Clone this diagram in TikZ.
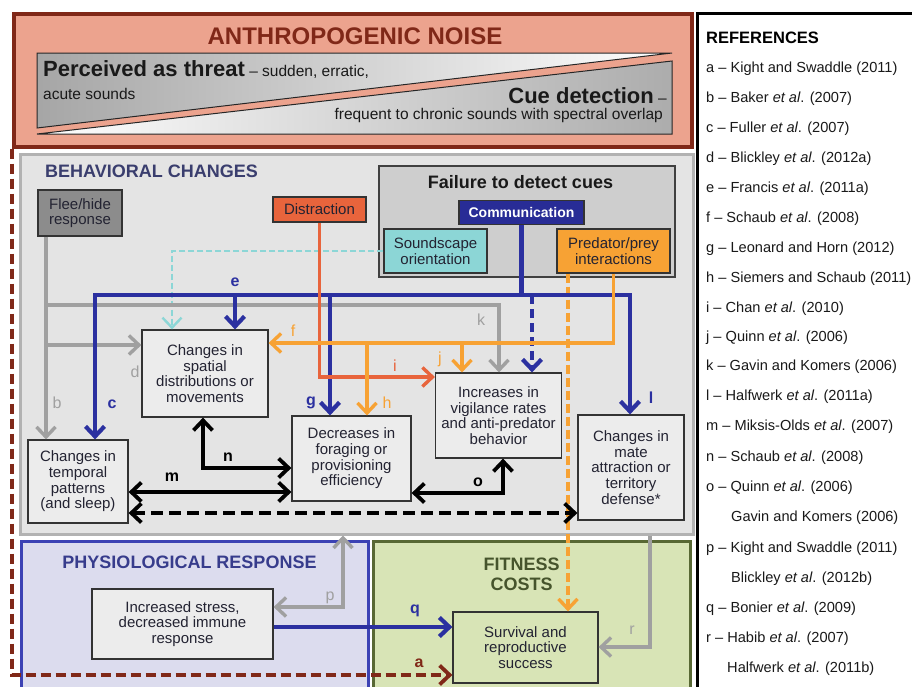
\documentclass[tikz,border=0pt]{standalone}
\usepackage{fontspec}
\setmainfont{Liberation Sans}
\usetikzlibrary{arrows.meta}
\newcommand{\fs}[2]{\fontsize{#1}{#2}\selectfont}
\definecolor{salmon}{RGB}{236,163,142}
\definecolor{dred}{RGB}{128,40,24}
\definecolor{bgray}{RGB}{228,228,228}
\definecolor{nblue}{RGB}{43,48,160}
\definecolor{norange}{RGB}{247,162,52}
\definecolor{nred}{RGB}{232,100,60}
\definecolor{ncyan}{RGB}{140,214,214}
\definecolor{lgray}{RGB}{160,160,160}
\definecolor{physfill}{RGB}{220,220,238}
\definecolor{physline}{RGB}{60,66,180}
\definecolor{phystext}{RGB}{55,60,140}
\definecolor{fitfill}{RGB}{216,228,182}
\definecolor{fitline}{RGB}{88,104,52}
\definecolor{fittext}{RGB}{70,84,44}
\definecolor{behtext}{RGB}{58,62,110}
\definecolor{boxfill}{RGB}{236,236,236}
\definecolor{fleefill}{RGB}{140,140,140}
\definecolor{failfill}{RGB}{206,206,206}
\definecolor{commfill}{RGB}{40,44,150}
\definecolor{boxtext}{RGB}{35,35,50}
\tikzset{
  box/.style={draw=black!80, line width=1.2pt, fill=boxfill, align=center, inner sep=0pt, text=boxtext, font=\fs{15}{15.7}},
  panel/.style={anchor=north west, inner sep=0pt},
  reftext/.style={anchor=base west, inner sep=0pt, font=\fs{14.6}{16}, text=black!90},
  lbl/.style={inner sep=0pt, font=\fs{16}{16}},
  blbl/.style={inner sep=0pt, font=\fs{16}{16}\bfseries},
  arrowend/.style={-{Straight Barb[length=10pt,width=19pt]}},
  arrowboth/.style={{Straight Barb[length=10pt,width=19pt]}-{Straight Barb[length=10pt,width=19pt]}},
  blu/.style={draw=nblue, line width=4.2pt},
  org/.style={draw=norange, line width=3.4pt},
  rdl/.style={draw=nred, line width=3.4pt},
  gry/.style={draw=lgray, line width=3.4pt},
  blk/.style={draw=black, line width=3.8pt},
  cyl/.style={draw=ncyan, line width=2.4pt, dash pattern=on 6pt off 3pt},
  drl/.style={draw=dred, line width=3.8pt, dash pattern=on 10pt off 5pt},
}
\begin{document}
\begin{tikzpicture}[x=1pt,y=-1pt]
\useasboundingbox (0,0) rectangle (912,686);
\clip (0,0) rectangle (912,686);
\fill[white] (0,0) rectangle (912,686);

% ---------- Anthropogenic noise ----------
\node[panel, draw=dred, line width=3.5pt, fill=salmon, minimum width=678, minimum height=133] (noise) at (12,12) {};
\node[anchor=base, inner sep=0pt, font=\fs{24}{24}\bfseries, text=dred] (title) at (355,44) {ANTHROPOGENIC NOISE};
\shadedraw[left color=gray!70, right color=white, draw=black!85, line width=1pt] (37,53) -- (672,53) -- (37,128) -- cycle;
\shadedraw[left color=white, right color=gray!65, draw=black!85, line width=1pt] (37,134) -- (672,134) -- (672,61) -- cycle;
\node[anchor=base west, inner sep=0pt, font=\fs{15.5}{16}, text=black!90] (threat) at (43,76) {{\fs{22}{22}\bfseries Perceived as threat} – sudden, erratic,};
\node[anchor=base west, inner sep=0pt, font=\fs{15.5}{16}, text=black!90] (acute) at (43,99) {acute sounds};
\node[anchor=base east, inner sep=0pt, font=\fs{15.5}{16}, text=black!90] (cue) at (667,103) {{\fs{22}{22}\bfseries Cue detection} –};
\node[anchor=base east, inner sep=0pt, font=\fs{15.5}{16}, text=black!90] (freq) at (663,119) {frequent to chronic sounds with spectral overlap};

% ---------- References ----------
\draw[line width=3pt] (697,13) rectangle (940,710);
\node[anchor=base west, inner sep=0pt, font=\fs{16.5}{17}\bfseries] (reftitle) at (706,43) {REFERENCES};
\node[reftext] (ra) at (706,72) {a – Kight and Swaddle (2011)};
\node[reftext] (rb) at (706,102) {b – Baker \textit{et al}. (2007)};
\node[reftext] (rc) at (706,132) {c – Fuller \textit{et al}. (2007)};
\node[reftext] (rd) at (706,162) {d – Blickley \textit{et al}. (2012a)};
\node[reftext] (re) at (706,192) {e – Francis \textit{et al}. (2011a)};
\node[reftext] (rf) at (706,222) {f – Schaub \textit{et al}. (2008)};
\node[reftext] (rg) at (706,252) {g – Leonard and Horn (2012)};
\node[reftext] (rh) at (706,282) {h – Siemers and Schaub (2011)};
\node[reftext] (ri) at (706,312) {i – Chan \textit{et al}. (2010)};
\node[reftext] (rj) at (706,341) {j – Quinn \textit{et al}. (2006)};
\node[reftext] (rk) at (706,370) {k – Gavin and Komers (2006)};
\node[reftext] (rl) at (706,400) {l – Halfwerk \textit{et al}. (2011a)};
\node[reftext] (rm) at (706,430) {m – Miksis-Olds \textit{et al}. (2007)};
\node[reftext] (rn) at (706,461) {n – Schaub \textit{et al}. (2008)};
\node[reftext] (ro) at (706,491) {o – Quinn \textit{et al}. (2006)};
\node[reftext] (ro2) at (731,521) {Gavin and Komers (2006)};
\node[reftext] (rp) at (706,552) {p – Kight and Swaddle (2011)};
\node[reftext] (rp2) at (731,582) {Blickley \textit{et al}. (2012b)};
\node[reftext] (rq) at (706,612) {q – Bonier \textit{et al}. (2009)};
\node[reftext] (rr) at (706,642) {r – Habib \textit{et al}. (2007)};
\node[reftext] (rr2) at (727,672) {Halfwerk \textit{et al}. (2011b)};

% ---------- Panels ----------
\node[panel, draw=gray!60, line width=2.5pt, fill=bgray, minimum width=673, minimum height=380] (behav) at (19,153) {};
\node[panel, draw=physline, line width=2.5pt, fill=physfill, minimum width=347, minimum height=160] (phys) at (20,540) {};
\node[panel, draw=fitline, line width=2.5pt, fill=fitfill, minimum width=317, minimum height=160] (fit) at (372,540) {};
\node[anchor=base west, inner sep=0pt, font=\fs{18}{18}\bfseries, text=behtext] (behtitle) at (45,177) {BEHAVIORAL CHANGES};
\node[anchor=base, inner sep=0pt, font=\fs{18}{18}\bfseries, text=phystext] (phystitle) at (189.5,568) {PHYSIOLOGICAL RESPONSE};
\node[anchor=base, inner sep=0pt, font=\fs{18}{18}\bfseries, text=fittext] (fittitle1) at (521.5,570) {FITNESS};
\node[anchor=base, inner sep=0pt, font=\fs{18}{18}\bfseries, text=fittext] (fittitle2) at (521.5,590) {COSTS};

% ---------- Failure to detect cues ----------
\node[draw=black!75, line width=1.5pt, fill=failfill, minimum width=296, minimum height=111, inner sep=0pt] (fail) at (527,221.5) {};
\node[anchor=base, inner sep=0pt, font=\fs{18}{18}\bfseries, text=black!90] (failtitle) at (520.5,188) {Failure to detect cues};
\node[box, fill=commfill, text=white, font=\fs{14}{15}\bfseries, minimum width=125, minimum height=24] (comm) at (521.5,212.5) {Communication};
\node[box, fill=ncyan, minimum width=103, minimum height=44] (sound) at (435.5,251) {Soundscape\\orientation};
\node[box, fill=norange, minimum width=113, minimum height=44] (pred) at (613.5,251) {Predator/prey\\interactions};

% ---------- Other boxes ----------
\node[box, fill=fleefill, minimum width=84, minimum height=46] (flee) at (80,213) {Flee/hide\\response};
\node[box, fill=nred, minimum width=93, minimum height=25] (dist) at (319.5,209.5) {Distraction};
\node[box, minimum width=126, minimum height=87] (spatial) at (205,373.5) {Changes in\\spatial\\distributions or\\movements};
\node[box, minimum width=100, minimum height=83] (temporal) at (78,481.5) {Changes in\\temporal\\patterns\\(and sleep)};
\node[box, minimum width=119, minimum height=85] (forage) at (351.5,458.5) {Decreases in\\foraging or\\provisioning\\efficiency};
\node[box, minimum width=126, minimum height=85] (vig) at (498.5,415.5) {Increases in\\vigilance rates\\and anti-predator\\behavior};
\node[box, minimum width=106, minimum height=105] (mate) at (631,467.5) {Changes in\\mate\\attraction or\\territory\\defense*};
\node[box, minimum width=181, minimum height=70] (stress) at (182.5,624) {Increased stress,\\decreased immune\\response};
\node[box, fill=fitfill, draw=black!80, minimum width=145, minimum height=71] (surv) at (525.5,647.5) {Survival and\\reproductive\\success};

% ---------- helper coordinates ----------
\coordinate (gx) at (46,0);
\coordinate (dy) at (0,345);
\coordinate (ky) at (0,305);
\coordinate (kx) at (499,0);
\coordinate (by) at (0,295);
\coordinate (cx) at (95,0);
\coordinate (ex) at (235,0);
\coordinate (gX) at (330,0);
\coordinate (dashx) at (532,0);
\coordinate (lx) at (630,0);
\coordinate (oy) at (0,343);
\coordinate (hx) at (367,0);
\coordinate (jx) at (462,0);
\coordinate (odx) at (568,0);
\coordinate (iy) at (0,377);
\coordinate (cyx) at (172,0);
\coordinate (nx) at (203,0);
\coordinate (ny) at (0,468);
\coordinate (my) at (0,492);
\coordinate (oby) at (0,493);
\coordinate (obx) at (503,0);
\coordinate (dby) at (0,513);
\coordinate (py) at (0,607);
\coordinate (px) at (343,0);
\coordinate (qy) at (0,627);
\coordinate (rx) at (650,0);
\coordinate (ry) at (0,647);
\coordinate (ax) at (12,0);
\coordinate (ay) at (0,675);

% ---------- connectors ----------
\draw[cyl, arrowend] (sound.west) -| (spatial.north -| cyx);
\draw[org, dash pattern=on 9pt off 4pt, arrowend] (pred.south -| odx) -- (surv.north -| odx);
\draw[gry, arrowend] (flee.south -| gx) -- (temporal.north -| gx);
\draw[gry, arrowend] (gx |- dy) -- (spatial.west |- dy);
\draw[gry, arrowend] (gx |- ky) -| (vig.north -| kx);
\draw[blu] (comm.south) -- (comm.south |- by);
\draw[blu, arrowend] (comm.south |- by) -| (temporal.north -| cx);
\draw[blu, arrowend] (comm.south |- by) -| (mate.north -| lx);
\draw[blu, arrowend] (ex |- by) -- (spatial.north -| ex);
\draw[blu, arrowend] (gX |- by) -- (forage.north -| gX);
\draw[blu, dash pattern=on 9pt off 5pt, arrowend] (dashx |- by) -- (vig.north -| dashx);
\draw[rdl, arrowend] (dist.south) |- (vig.west |- iy);
\draw[org, arrowend] (pred.south) |- (spatial.east |- oy);
\draw[org, arrowend] (hx |- oy) -- (forage.north -| hx);
\draw[org, arrowend] (jx |- oy) -- (vig.north -| jx);
\draw[blk, arrowboth] (spatial.south -| nx) |- (forage.west |- ny);
\draw[blk, arrowboth] (temporal.east |- my) -- (forage.west |- my);
\draw[blk, arrowboth] (forage.east |- oby) -| (vig.south -| obx);
\draw[blk, dash pattern=on 12pt off 6pt, arrowboth] (temporal.east |- dby) -- (mate.west |- dby);
\draw[gry, arrowboth] (stress.east |- py) -| (behav.south -| px);
\draw[blu, arrowend] (stress.east |- qy) -- (surv.west |- qy);
\draw[gry, arrowend] (behav.south -| rx) |- (surv.east |- ry);
\draw[drl, arrowend] (noise.south -| ax) |- (surv.west |- ay);

% ---------- labels ----------
\node[blbl, text=nblue] (le) at (235,282) {e};
\node[lbl, text=norange] (lf) at (293,331) {f};
\node[lbl, text=nred] (li) at (395,366) {i};
\node[blbl, text=nblue] (lg) at (311,403) {g};
\node[lbl, text=norange] (lh) at (387,403) {h};
\node[lbl, text=norange] (lj) at (440,359) {j};
\node[lbl, text=lgray] (lk) at (481,320) {k};
\node[blbl, text=nblue] (ll) at (651,398) {l};
\node[lbl, text=lgray] (ld) at (135,372) {d};
\node[lbl, text=lgray] (lb) at (57,403) {b};
\node[blbl, text=nblue] (lc) at (112,404) {c};
\node[blbl] (ln) at (228,457) {n};
\node[blbl] (lm) at (172,477) {m};
\node[blbl] (lo) at (478,482) {o};
\node[lbl, text=lgray] (lp) at (330,598) {p};
\node[blbl, text=nblue] (lq) at (415,611) {q};
\node[lbl, text=lgray] (lr) at (632,630) {r};
\node[blbl, text=dred] (la) at (419,663) {a};
\end{tikzpicture}
\end{document}
